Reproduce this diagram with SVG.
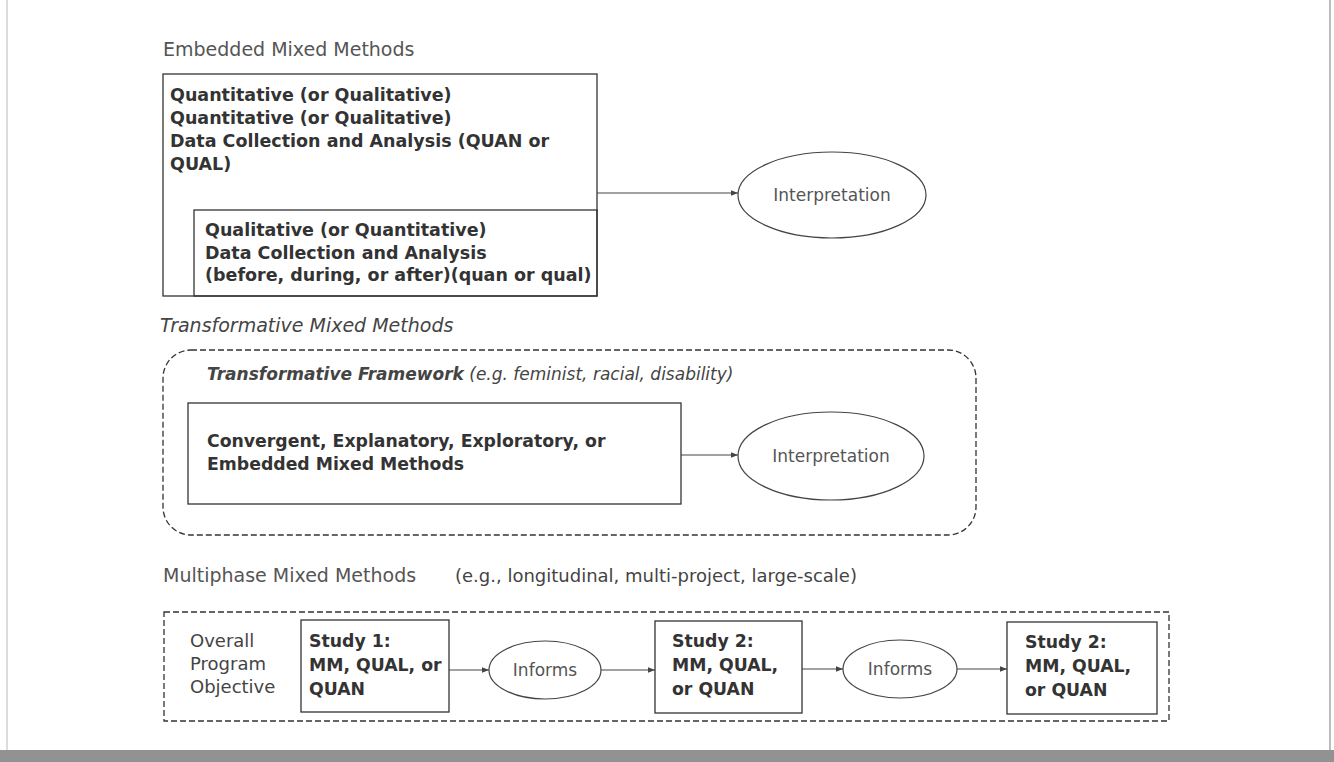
<svg xmlns="http://www.w3.org/2000/svg" width="1334" height="762" viewBox="0 0 1334 762">
  <style>
    text { font-family: "DejaVu Sans", "Liberation Sans", sans-serif; }
    .title { font-size: 19px; fill: #555; }
    .ital { font-size: 19px; fill: #444; font-style: italic; }
    .bt { font-size: 17.5px; font-weight: bold; fill: #333; }
    .st { font-size: 17.3px; font-weight: bold; fill: #333; }
    .el { font-size: 17px; fill: #555; }
    .rg { font-size: 18px; fill: #444; }
    .box { fill: none; stroke: #333; stroke-width: 1.3; }
    .dash { fill: none; stroke: #333; stroke-width: 1.3; stroke-dasharray: 6 3; }
    .ell { fill: none; stroke: #444; stroke-width: 1.2; }
    .conn { fill: none; stroke: #444; stroke-width: 1.2; marker-end: url(#arr); }
  </style>
  <defs>
    <marker id="arr" viewBox="0 0 10 10" refX="10" refY="5" markerWidth="7" markerHeight="7" markerUnits="userSpaceOnUse" orient="auto">
      <path d="M0,1 L10,5 L0,9 Z" fill="#444"/>
    </marker>
  </defs>
  <rect width="1334" height="762" fill="#ffffff"/>
  <!-- scan edges -->
  <line x1="7" y1="0" x2="7" y2="750" stroke="#d0d0d0" stroke-width="1.5"/>
  <line x1="1330" y1="0" x2="1330" y2="750" stroke="#bdbdbd" stroke-width="2"/>
  <rect x="0" y="750" width="1334" height="12" fill="#929292"/>

  <!-- Embedded Mixed Methods -->
  <g id="embedded-title">
    <text class="title" x="163" y="56">Embedded Mixed Methods</text>
  </g>
  <g id="embedded-main">
    <rect class="box" x="163" y="74" width="434" height="222"/>
    <text class="bt" x="170" y="101">Quantitative (or Qualitative)</text>
    <text class="bt" x="170" y="124">Quantitative (or Qualitative)</text>
    <text class="bt" x="170" y="147">Data Collection and Analysis (QUAN or</text>
    <text class="bt" x="170" y="170">QUAL)</text>
  </g>
  <g id="embedded-inner">
    <rect class="box" x="194" y="210" width="403" height="86"/>
    <text class="bt" x="205" y="236">Qualitative (or Quantitative)</text>
    <text class="bt" x="205" y="259">Data Collection and Analysis</text>
    <text class="bt" x="205" y="281">(before, during, or after)(quan or qual)</text>
  </g>
  <g id="interp1">
    <ellipse class="ell" cx="832" cy="195" rx="94" ry="43"/>
    <text class="el" x="832" y="201" text-anchor="middle">Interpretation</text>
  </g>

  <!-- Transformative Mixed Methods -->
  <g id="transformative-title">
    <text class="ital" x="160" y="332">Transformative Mixed Methods</text>
  </g>
  <g id="transformative-framework">
    <rect class="dash" x="163" y="350" width="813" height="185" rx="28" ry="28"/>
    <text x="207" y="380" font-size="17" font-style="italic" fill="#444"><tspan font-weight="bold">Transformative Framework</tspan> (e.g. feminist, racial, disability)</text>
  </g>
  <g id="convergent">
    <rect class="box" x="188" y="403" width="493" height="101"/>
    <text class="st" x="207" y="447">Convergent, Explanatory, Exploratory, or</text>
    <text class="st" x="207" y="470">Embedded Mixed Methods</text>
  </g>
  <g id="interp2">
    <ellipse class="ell" cx="831" cy="456" rx="93" ry="44"/>
    <text class="el" x="831" y="462" text-anchor="middle">Interpretation</text>
  </g>

  <!-- Multiphase Mixed Methods -->
  <g id="multiphase-title">
    <text class="title" x="163" y="582">Multiphase Mixed Methods</text>
    <text class="rg" x="455" y="582" fill="#555">(e.g., longitudinal, multi-project, large-scale)</text>
  </g>
  <g id="multiphase-frame">
    <rect class="dash" x="164" y="612" width="1005" height="109"/>
    <text class="rg" x="190" y="647">Overall</text>
    <text class="rg" x="190" y="670">Program</text>
    <text class="rg" x="190" y="693">Objective</text>
  </g>
  <g id="study1">
    <rect class="box" x="301" y="620" width="148" height="92"/>
    <text class="st" x="309" y="647">Study 1:</text>
    <text class="st" x="309" y="671">MM, QUAL, or</text>
    <text class="st" x="309" y="695">QUAN</text>
  </g>
  <g id="informs1">
    <ellipse class="ell" cx="545" cy="670" rx="56" ry="29"/>
    <text class="el" x="545" y="676" text-anchor="middle">Informs</text>
  </g>
  <g id="study2">
    <rect class="box" x="655" y="621" width="147" height="92"/>
    <text class="st" x="672" y="647">Study 2:</text>
    <text class="st" x="672" y="671">MM, QUAL,</text>
    <text class="st" x="672" y="695">or QUAN</text>
  </g>
  <g id="informs2">
    <ellipse class="ell" cx="900" cy="669" rx="57" ry="29"/>
    <text class="el" x="900" y="675" text-anchor="middle">Informs</text>
  </g>
  <g id="study3">
    <rect class="box" x="1007" y="622" width="150" height="92"/>
    <text class="st" x="1025" y="648">Study 2:</text>
    <text class="st" x="1025" y="672">MM, QUAL,</text>
    <text class="st" x="1025" y="696">or QUAN</text>
  </g>

  <!-- Connectors -->
  <g id="connectors">
    <line class="conn" x1="597" y1="193" x2="738" y2="193"/>
    <line class="conn" x1="681" y1="455" x2="738" y2="455"/>
    <line class="conn" x1="449" y1="670" x2="489" y2="670"/>
    <line class="conn" x1="601" y1="670" x2="655" y2="670"/>
    <line class="conn" x1="802" y1="669" x2="843" y2="669"/>
    <line class="conn" x1="957" y1="669" x2="1007" y2="669"/>
  </g>
</svg>
